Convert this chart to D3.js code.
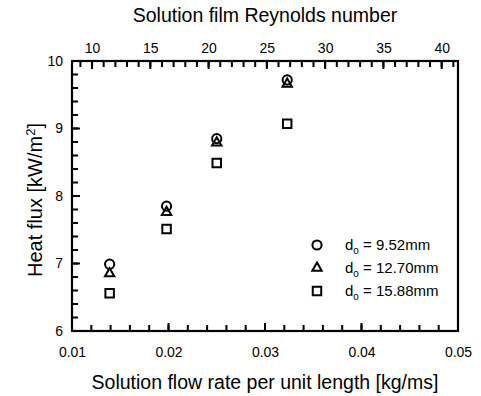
<!DOCTYPE html>
<html lang="en">
	<head>
		<meta charset="utf-8">
		<title>Heat flux vs solution flow rate</title>
		<script type="text/javascript" src="https://cdn.jsdelivr.net/npm/d3@7"></script>
		<style type="text/css">
			body { margin: 0; background: #fff; }
			text { font-family: "Liberation Sans", Arial, sans-serif; fill: #000; }
		</style>
	</head>
	<body>
		<script type="text/javascript">

			var w = 481;
			var h = 396;
			var margin = {top: 61, right: 23, bottom: 65, left: 72};

			// data
			var flowRate = [0.0139, 0.0198, 0.0250, 0.0323];
			var heat952 = [6.99, 7.85, 8.85, 9.72];
			var heat1270 = [6.85, 7.76, 8.79, 9.66];
			var heat1588 = [6.56, 7.51, 8.49, 9.07];

			var seriesNames = ["9.52mm", "12.70mm", "15.88mm"];
			var seriesShapes = ["circle", "triangle", "square"];

			var xTicks = [0.01, 0.02, 0.03, 0.04, 0.05];
			var yTicks = [6, 7, 8, 9, 10];
			var reTicks = [10, 15, 20, 25, 30, 35, 40];

			var series = [heat952, heat1270, heat1588].map(function(vals, i) {
				return {
					name: seriesNames[i],
					shape: seriesShapes[i],
					points: vals.map(function(v, j) { return {x: flowRate[j], y: v}; })
				};
			});

			var xScale = d3.scaleLinear()
						.domain([0.01, 0.05])
						.range([margin.left, w - margin.right]);

			var yScale = d3.scaleLinear()
						.domain([6, 10])
						.range([h - margin.bottom, margin.top]);

			// Reynolds number is proportional to flow rate
			var reScale = d3.scaleLinear()
						.domain([8.28, 41.4])
						.range([margin.left, w - margin.right]);

			var svg = d3.select("body")
						.append("svg")
						.attr("width", w)
						.attr("height", h);

			var x0 = margin.left, x1 = w - margin.right;
			var y0 = margin.top, y1 = h - margin.bottom;

			svg.append("rect")
				.attr("x", x0)
				.attr("y", y0)
				.attr("width", x1 - x0)
				.attr("height", y1 - y0)
				.attr("fill", "none")
				.attr("stroke", "#000")
				.attr("stroke-width", 2.2);

			// tick marks, all pointing into the plot
			function xTickMarks(scale, values, yBase, len) {
				svg.append("g").selectAll("line")
					.data(values)
					.enter()
					.append("line")
					.attr("x1", function(d) { return scale(d); })
					.attr("x2", function(d) { return scale(d); })
					.attr("y1", yBase)
					.attr("y2", yBase + len)
					.attr("stroke", "#000")
					.attr("stroke-width", 2);
			}
			function yTickMarks(scale, values, xBase, len) {
				svg.append("g").selectAll("line")
					.data(values)
					.enter()
					.append("line")
					.attr("y1", function(d) { return scale(d); })
					.attr("y2", function(d) { return scale(d); })
					.attr("x1", xBase)
					.attr("x2", xBase + len)
					.attr("stroke", "#000")
					.attr("stroke-width", 2);
			}

			xTickMarks(xScale, d3.range(0.012, 0.0499, 0.002), y1, -6);
			xTickMarks(xScale, xTicks, y1, -8);
			yTickMarks(yScale, d3.range(6.2, 9.99, 0.2), x0, 6);
			yTickMarks(yScale, yTicks, x0, 8);
			xTickMarks(reScale, d3.range(9, 42, 1), y0, 6);
			xTickMarks(reScale, reTicks, y0, 8);

			// tick labels via d3 axes (no lines)
			function labelAxis(g) {
				g.select(".domain").remove();
				g.selectAll(".tick line").remove();
				g.selectAll("text").attr("font-size", "14px").attr("fill", "#000")
				 .attr("font-family", "Liberation Sans, Arial, sans-serif");
			}

			var bottomAxis = svg.append("g")
				.attr("transform", "translate(0," + y1 + ")")
				.call(d3.axisBottom(xScale).tickValues(xTicks).tickSize(0).tickFormat(d3.format(".2f")));
			labelAxis(bottomAxis);
			bottomAxis.selectAll("text").attr("dy", "0.71em").attr("y", 16);

			var leftAxis = svg.append("g")
				.attr("transform", "translate(" + x0 + ",0)")
				.call(d3.axisLeft(yScale).tickValues(yTicks).tickSize(0).tickFormat(d3.format("d")));
			labelAxis(leftAxis);
			leftAxis.selectAll("text").attr("x", -9);

			var topAxis = svg.append("g")
				.attr("transform", "translate(0," + y0 + ")")
				.call(d3.axisTop(reScale).tickValues(reTicks).tickSize(0).tickFormat(d3.format("d")));
			labelAxis(topAxis);
			topAxis.selectAll("text").attr("y", -8);

			// axis titles
			svg.append("text")
				.attr("x", (x0 + x1) / 2)
				.attr("y", 22)
				.attr("text-anchor", "middle")
				.attr("font-size", "19.5px")
				.attr("fill", "#000")
				.text("Solution film Reynolds number");

			svg.append("text")
				.attr("x", (x0 + x1) / 2)
				.attr("y", 389)
				.attr("text-anchor", "middle")
				.attr("font-size", "19.5px")
				.attr("fill", "#000")
				.text("Solution flow rate per unit length [kg/ms]");

			var yTitle = svg.append("text")
				.attr("transform", "translate(42," + ((y0 + y1) / 2 + 4) + ") rotate(-90)")
				.attr("text-anchor", "middle")
				.attr("font-size", "20px")
				.attr("fill", "#000");
			yTitle.append("tspan").text("Heat flux [kW/m");
			yTitle.append("tspan").attr("font-size", "13px").attr("dy", "-7").text("2");
			yTitle.append("tspan").attr("dy", "7").text("]");

			// markers
			var symbolFor = {
				triangle: d3.symbol().type(d3.symbolTriangle).size(38),
				square: d3.symbol().type(d3.symbolSquare).size(72)
			};

			function drawMarker(g, shape) {
				if (shape == "circle") {
					return g.append("circle").attr("r", 4.6);
				}
				return g.append("path").attr("d", symbolFor[shape]());
			}

			series.forEach(function(s) {
				s.points.forEach(function(p) {
					var g = svg.append("g")
						.attr("transform", "translate(" + xScale(p.x) + "," + yScale(p.y) + ")");
					drawMarker(g, s.shape)
						.attr("fill", "none")
						.attr("stroke", "#000")
						.attr("stroke-width", 2);
				});
			});

			// legend
			var legend = svg.append("g");
			series.forEach(function(s, i) {
				var ly = 245 + i * 23;
				var g = legend.append("g").attr("transform", "translate(317," + ly + ")");
				drawMarker(g, s.shape)
					.attr("fill", "none")
					.attr("stroke", "#000")
					.attr("stroke-width", 2);
				var t = legend.append("text")
					.attr("x", 345)
					.attr("y", ly + 5)
					.attr("font-size", "15px");
				t.append("tspan").text("d");
				t.append("tspan").attr("font-size", "10px").attr("dy", "4").text("o");
				t.append("tspan").attr("dy", "-4").text(" = " + s.name);
			});

		</script>
	</body>
</html>
